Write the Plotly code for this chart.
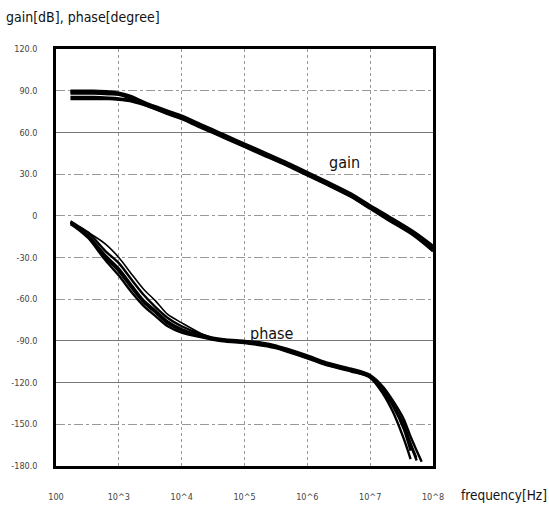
import plotly.graph_objects as go

# ---------------- data ----------------
freq_g = [170, 250, 400, 700, 1000, 1500, 2000, 3000, 5000, 7000, 1e4, 2e4, 3e4, 5e4,
          1e5, 2e5, 5e5, 1e6, 2e6, 5e6, 1e7, 2e7, 5e7, 1e8]
gain_a = [90, 90, 90, 89.5, 88.5, 86.5, 84, 80.5, 77, 74.5, 72, 66, 62.5, 58,
          52, 46, 38, 31.5, 25, 16, 7.5, -0.5, -11.5, -21.5]
gain_b = [89, 89, 89, 88.5, 87.5, 85.5, 83, 79.5, 75.5, 73, 70.5, 64.5, 61, 56.5,
          50.5, 44.5, 36.5, 30, 23.5, 14.5, 6, -2, -13, -23.5]
gain_c = [88, 88, 88, 87.5, 87, 84.5, 82, 78.5, 74.5, 72, 69.5, 63.5, 60, 55.5,
          49.5, 43.5, 35.5, 29, 22.5, 13.5, 5, -3.5, -14.5, -25.5]
gain_d = [85.5, 85.5, 85.5, 85, 84.5, 83.5, 82, 79, 75.5, 73, 70.5, 64.5, 61, 56.5,
          50.5, 44.5, 36.5, 30, 23.5, 14.5, 6, -2, -13.5, -24]
gain_e = [84, 84, 84, 84, 83.5, 82.5, 81, 78.5, 75, 72.5, 70, 64, 60.5, 56,
          50, 44, 36, 29.5, 23, 14, 5.5, -2.5, -13, -23]

freq_p = [170, 200, 325, 600, 1000, 1600, 2500, 3800, 6000, 1e4, 2.1e4, 3e4, 5e4,
          1e5, 2e5, 3e5, 5e5, 1e6, 2e6, 5e6, 1e7, 1.6e7, 2.3e7, 3.4e7, 4.4e7, 5.5e7, 6.6e7]
phase_a = [-4, -6, -12, -25, -34, -46, -57, -65.5, -73.5, -79.5, -85.5, -87.5, -89,
           -90, -91.5, -93, -96, -100.5, -105.5, -110, -114.5, -123, -133, -146, -159, -169, -177]
phase_b = [-5, -7, -14, -28, -38, -50, -61, -68, -76, -81.5, -86.5, -88, -89.5,
           -90.5, -92.5, -94, -97, -101.5, -106.5, -111, -115.5, -126, -137, -153, -169, None, None]
phase_c = [-6, -8, -16, -31.5, -43, -55, -65, -72, -79.5, -84, -87.5, -89, -90.5,
           -91.5, -93.5, -95, -98, -102.5, -107.5, -112, -116.5, -128, -141, -160, -175, None, None]
phase_d = [-5, -7, -15, -29.5, -40, -52, -62.5, -69.5, -77.5, -82.5, -87, -88.5, -90,
           -91, -93, -94.5, -97.5, -102, -107, -111.5, -116, -125, -136, -150, -165, -176, None]
phase_e = [-5, -6.5, -12, -20, -30, -42, -53, -61, -71, -77, -85, -87.5, -89.5,
           -90.5, -92, -93.5, -96.5, -101, -106, -110.5, -115, -124, -135, -149, -163, -174, None]

y_ticks = [120, 90, 60, 30, 0, -30, -60, -90, -120, -150, -180]
y_tick_text = ["120.0", "90.0", "60.0", "30.0", "0", "-30.0", "-60.0", "-90.0",
               "-120.0", "-150.0", "-180.0"]
x_ticks = [1e2, 1e3, 1e4, 1e5, 1e6, 1e7, 1e8]
x_tick_text = ["100", "10^3", "10^4", "10^5", "10^6", "10^7", "10^8"]
solid_grid = [60, -90, -120]

FAMILY = "Liberation Sans Narrow, DejaVu Sans Condensed, Arial Narrow, sans-serif"
TICKFONT = dict(family=FAMILY, size=9, color="#444")
LABELFONT = dict(family=FAMILY, size=14, color="#111")

fig = go.Figure()
for g in [gain_a, gain_b, gain_c, gain_d, gain_e]:
    fig.add_trace(go.Scatter(x=freq_g, y=g, mode="lines",
                             line=dict(color="black", width=2.4, shape="spline", smoothing=0.8),
                             showlegend=False, hoverinfo="skip"))
for i, p in enumerate([phase_a, phase_b, phase_c, phase_d, phase_e]):
    fig.add_trace(go.Scatter(x=freq_p, y=p, mode="lines",
                             line=dict(color="black", width=1.6 if i == 4 else 2.4,
                                       shape="spline", smoothing=0.8),
                             showlegend=False, hoverinfo="skip", connectgaps=False))

# invisible trace on overlay axis carrying the solid gridlines
fig.add_trace(go.Scatter(x=[freq_g[0]], y=[solid_grid[0]], yaxis="y2", mode="lines",
                         line=dict(width=0), showlegend=False, hoverinfo="skip"))

fig.update_layout(
    width=549, height=505,
    margin=dict(l=56, r=116, t=49, b=39),
    paper_bgcolor="white", plot_bgcolor="white",
    xaxis=dict(type="log", range=[2, 8], tickvals=x_ticks, ticktext=x_tick_text,
               tickfont=TICKFONT, showgrid=True, gridcolor="#999", griddash="dot",
               gridwidth=1, showline=True, linecolor="black", linewidth=2.5, mirror=True,
               ticks="", ticklabelstandoff=20, zeroline=False, automargin=False),
    yaxis=dict(range=[-180, 120], tickvals=y_ticks, ticktext=y_tick_text,
               tickfont=TICKFONT, showgrid=True, gridcolor="#999", griddash="dashdot",
               gridwidth=1, showline=True, linecolor="black", linewidth=2.5, mirror=True,
               ticks="", ticklabelstandoff=14, zeroline=False, automargin=False),
    yaxis2=dict(range=[-180, 120], overlaying="y", tickvals=solid_grid, showticklabels=False,
                showgrid=True, gridcolor="#777", gridwidth=1, zeroline=False, showline=False,
                automargin=False),
    annotations=[
        dict(text="gain[dB], phase[degree]", xref="paper", yref="paper", x=-0.137, y=1.077,
             xanchor="left", yanchor="middle", showarrow=False, font=LABELFONT),
        dict(text="frequency[Hz]", xref="paper", yref="paper", x=1.07, y=-0.07,
             xanchor="left", yanchor="middle", showarrow=False,
             font=dict(family=FAMILY, size=13.5, color="#111")),
        dict(text="gain", xref="x", yref="y", x=6.59, y=38, showarrow=False,
             font=dict(family=FAMILY, size=16, color="#111")),
        dict(text="phase", xref="x", yref="y", x=5.44, y=-85, showarrow=False,
             font=dict(family=FAMILY, size=16, color="#111")),
    ],
)

fig.write_html("out.html", config={"displayModeBar": False},
               post_script="document.body.style.margin='0';")
